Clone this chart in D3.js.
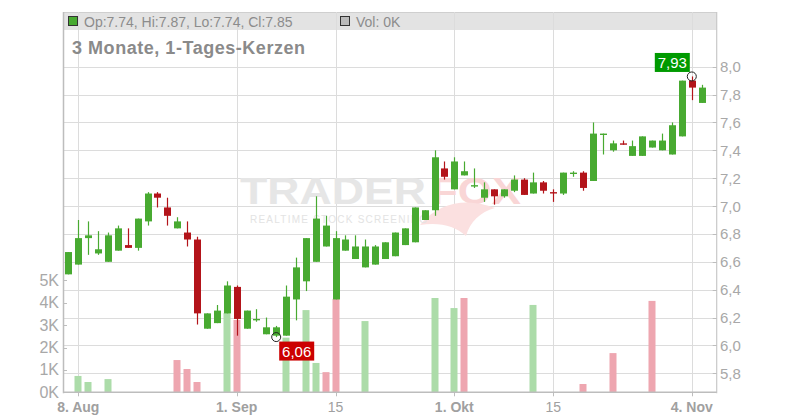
<!DOCTYPE html>
<html><head><meta charset="utf-8">
<script src="https://cdn.jsdelivr.net/npm/d3@7"></script>
<style>html,body{margin:0;padding:0;background:#fff;}svg{display:block;font-family:"Liberation Sans",Arial,sans-serif;}</style>
</head><body><svg id="c" width="800" height="420"></svg>
<script>
const dates = ["2025-08-07","2025-08-08","2025-08-11","2025-08-12","2025-08-13","2025-08-14","2025-08-15","2025-08-18","2025-08-19","2025-08-20","2025-08-21","2025-08-22","2025-08-25","2025-08-26","2025-08-27","2025-08-28","2025-08-29",
"2025-09-01","2025-09-02","2025-09-03","2025-09-04","2025-09-05","2025-09-08","2025-09-09","2025-09-10","2025-09-11","2025-09-12","2025-09-15","2025-09-16","2025-09-17","2025-09-18","2025-09-19","2025-09-22","2025-09-23","2025-09-24","2025-09-25","2025-09-26","2025-09-29","2025-09-30",
"2025-10-01","2025-10-02","2025-10-03","2025-10-06","2025-10-07","2025-10-08","2025-10-09","2025-10-10","2025-10-13","2025-10-14","2025-10-15","2025-10-16","2025-10-17","2025-10-20","2025-10-21","2025-10-22","2025-10-23","2025-10-24","2025-10-27","2025-10-28","2025-10-29","2025-10-30","2025-10-31","2025-11-03","2025-11-04","2025-11-05"];
const open  = [6.51,6.58,6.77,6.66,6.60,6.68,6.72,6.70,6.89,7.09,6.99,6.84,6.81,6.76,6.12,6.16,6.23,6.42,6.12,6.18,6.08,6.07,6.07,6.33,6.46,6.60,6.71,6.33,6.68,6.62,6.56,6.58,6.62,6.64,6.72,6.74,6.90,6.97,7.27,7.12,7.22,7.14,7.06,7.12,7.07,7.11,7.19,7.09,7.17,7.10,7.09,7.23,7.24,7.18,7.51,7.40,7.45,7.36,7.36,7.42,7.40,7.37,7.50,7.90,7.74];
const high  = [6.67,6.90,6.89,6.82,6.81,6.86,6.84,6.91,7.10,7.10,7.06,6.92,6.89,6.78,6.23,6.29,6.46,6.43,6.25,6.26,6.20,6.14,6.43,6.63,6.77,7.07,6.93,6.82,6.79,6.79,6.76,6.72,6.74,6.81,6.84,6.99,6.97,7.40,7.32,7.35,7.32,7.27,7.17,7.12,7.12,7.22,7.20,7.24,7.18,7.12,7.24,7.25,7.25,7.60,7.52,7.47,7.47,7.47,7.50,7.47,7.52,7.60,7.90,7.93,7.87];
const low   = [6.51,6.58,6.65,6.65,6.60,6.68,6.70,6.68,6.86,6.99,6.86,6.84,6.71,6.15,6.12,6.16,6.23,6.07,6.12,6.17,6.08,6.06,6.07,6.18,6.39,6.60,6.71,6.33,6.68,6.62,6.56,6.58,6.62,6.64,6.72,6.74,6.90,6.93,7.19,7.12,7.22,7.13,7.03,7.01,7.06,7.10,7.08,7.09,7.09,7.03,7.08,7.21,7.11,7.18,7.37,7.39,7.44,7.36,7.36,7.42,7.40,7.37,7.50,7.76,7.74];
const close = [6.67,6.77,6.79,6.69,6.79,6.84,6.70,6.91,7.09,7.06,6.93,6.89,6.76,6.23,6.23,6.25,6.43,6.19,6.25,6.19,6.13,6.13,6.35,6.56,6.77,6.91,6.86,6.77,6.76,6.71,6.71,6.71,6.74,6.81,6.84,6.99,6.97,7.35,7.21,7.32,7.25,7.15,7.12,7.07,7.12,7.19,7.08,7.17,7.11,7.09,7.24,7.24,7.13,7.52,7.52,7.45,7.44,7.43,7.50,7.47,7.47,7.58,7.90,7.85,7.85];
const volume = [0,730,460,0,590,0,0,0,0,0,0,1440,1040,460,0,0,3540,3230,0,0,0,0,2440,0,3670,1310,900,4170,0,0,3180,0,0,0,0,0,0,4210,0,3760,4210,0,0,0,0,0,0,3900,0,0,0,0,370,0,0,1750,0,0,0,4080,0,0,0,0,0];
const xTickIndex = [1,17,27,39,49,63];
const xTickLabels = ["8. Aug","1. Sep","15","1. Okt","15","4. Nov"];
const xTickBold = [true,true,false,true,false,true];
const priceTicks = [5.8,6.0,6.2,6.4,6.6,6.8,7.0,7.2,7.4,7.6,7.8,8.0];
const volTicks = [0,1000,2000,3000,4000,5000];
const volTickLabels = ["0K","1K","2K","3K","4K","5K"];
const legendText = "Op:7.74, Hi:7.87, Lo:7.74, Cl:7.85";
const legendVol = "Vol: 0K";
const titleText = "3 Monate, 1-Tages-Kerzen";
const hiMark = {i:63, v:7.93, label:"7,93"};
const loMark = {i:21, v:6.06, label:"6,06"};

const svg = d3.select("#c");
const L = 63, R = 716.7, T = 12, B = 392.3;
const x = d3.scaleLinear().domain([0,64]).range([68.4,701.7]);
const y = d3.scaleLinear().domain([5.8,8.0]).range([373.3,66.7]);
const yv = d3.scaleLinear().domain([0,5000]).range([B,280.3]);
const GREEN = "#48aa31", RED = "#b3141a", VGREEN = "#acdca9", VRED = "#eea6b0";

// header band
svg.append("rect").attr("x",L).attr("y",T).attr("width",R-L).attr("height",18).attr("fill","#e3e3e3");
svg.append("line").attr("x1",L).attr("x2",R).attr("y1",T+0.5).attr("y2",T+0.5).attr("stroke","#cfcfcf");

// gridlines
const g = svg.append("g");
g.selectAll("line.h").data(priceTicks).join("line")
  .attr("x1",L).attr("x2",R).attr("y1",d=>Math.round(y(d))+0.5).attr("y2",d=>Math.round(y(d))+0.5)
  .attr("stroke","#dcdcdc");
g.selectAll("line.v").data(xTickIndex).join("line")
  .attr("x1",d=>Math.round(x(d))+0.5).attr("x2",d=>Math.round(x(d))+0.5).attr("y1",T).attr("y2",B)
  .attr("stroke","#dcdcdc");

// watermark
const wm = svg.append("g");
wm.append("text").attr("x",240).attr("y",203.5).attr("font-size",37).attr("font-weight","bold")
  .attr("fill","#e6e6e6").attr("textLength",186).attr("lengthAdjust","spacingAndGlyphs").text("TRADER");
wm.append("text").attr("x",431).attr("y",203.5).attr("font-size",37).attr("font-weight","bold")
  .attr("fill","#f9d6d6").attr("textLength",90).attr("lengthAdjust","spacingAndGlyphs").text("FOX");
wm.append("path").attr("d","M420,225 C440,200 470,198 495,208 C480,212 470,222 466,236 C455,226 440,222 420,225 Z")
  .attr("fill","#fbe0e0");
wm.append("text").attr("x",250).attr("y",222.5).attr("font-size",10).attr("fill","#e3e3e3")
  .attr("textLength",177).attr("lengthAdjust","spacing").text("REALTIME STOCK SCREENING");

// volume bars
const idx = d3.range(open.length);
svg.append("g").selectAll("rect").data(idx.filter(i=>volume[i]>0)).join("rect")
  .attr("x",i=>Math.round(x(i))-3.5).attr("width",7)
  .attr("y",i=>yv(volume[i])).attr("height",i=>B-yv(volume[i]))
  .attr("fill",i=> (i>0 && close[i] < close[i-1]) ? VRED : VGREEN);

// candles
const cg = svg.append("g");
cg.selectAll("line").data(idx).join("line")
  .attr("x1",i=>Math.round(x(i))+0.5).attr("x2",i=>Math.round(x(i))+0.5)
  .attr("y1",i=>y(high[i])).attr("y2",i=>y(low[i]))
  .attr("stroke",i=>close[i]<open[i]?RED:GREEN).attr("stroke-width",1.2);
cg.selectAll("rect").data(idx).join("rect")
  .attr("x",i=>Math.round(x(i))-3).attr("width",7)
  .attr("y",i=>y(Math.max(open[i],close[i])))
  .attr("height",i=>Math.max(1.2, Math.abs(y(open[i])-y(close[i]))))
  .attr("fill",i=>close[i]<open[i]?RED:GREEN);

// axes lines
svg.append("line").attr("x1",L+0.5).attr("x2",L+0.5).attr("y1",T).attr("y2",B+1).attr("stroke","#bdbdbd").attr("stroke-width",1.5);
svg.append("line").attr("x1",R).attr("x2",R).attr("y1",T).attr("y2",B+1).attr("stroke","#c8c8c8").attr("stroke-width",1.2);
svg.append("line").attr("x1",L).attr("x2",R).attr("y1",B).attr("y2",B).attr("stroke","#bdbdbd").attr("stroke-width",1.5);

// x axis
const xa = svg.append("g");
xa.selectAll("line").data(xTickIndex).join("line")
  .attr("x1",d=>Math.round(x(d))+0.5).attr("x2",d=>Math.round(x(d))+0.5).attr("y1",B).attr("y2",B+4).attr("stroke","#bdbdbd");
xa.selectAll("text").data(xTickIndex).join("text")
  .attr("x",d=>x(d)).attr("y",412).attr("text-anchor","middle").attr("font-size",14)
  .attr("font-weight",(d,i)=>xTickBold[i]?"bold":"normal").attr("fill","#a0a0a0")
  .text((d,i)=>xTickLabels[i]);

// price axis (right)
const pa = svg.append("g");
pa.selectAll("line").data(priceTicks).join("line")
  .attr("x1",R-4).attr("x2",R).attr("y1",d=>Math.round(y(d))+0.5).attr("y2",d=>Math.round(y(d))+0.5).attr("stroke","#bdbdbd");
pa.selectAll("text").data(priceTicks).join("text")
  .attr("x",720).attr("y",d=>y(d)+5.5).attr("font-size",15).attr("fill","#a8a8a8")
  .text(d=>d3.format(".1f")(d).replace(".",","));

// volume axis (left)
const va = svg.append("g");
va.selectAll("line").data(volTicks).join("line")
  .attr("x1",L).attr("x2",L+4).attr("y1",d=>Math.round(yv(d))+0.5).attr("y2",d=>Math.round(yv(d))+0.5).attr("stroke","#bdbdbd");
va.selectAll("text").data(volTicks).join("text")
  .attr("x",59).attr("y",d=>yv(d)+5.5).attr("text-anchor","end").attr("font-size",16).attr("fill","#a8a8a8")
  .text((d,i)=>volTickLabels[i]);

// legend
svg.append("rect").attr("x",68.5).attr("y",16.5).attr("width",9).attr("height",9).attr("fill",GREEN).attr("stroke","#333");
svg.append("text").attr("x",84).attr("y",26.5).attr("font-size",14).attr("fill","#8c8c8c").text(legendText);
svg.append("rect").attr("x",340.5).attr("y",16.5).attr("width",9).attr("height",9).attr("fill","#bbb").attr("stroke","#333");
svg.append("text").attr("x",356).attr("y",26.5).attr("font-size",14).attr("fill","#8c8c8c").text(legendVol);

// title
svg.append("text").attr("x",72).attr("y",54).attr("font-size",18).attr("font-weight","bold").attr("fill","#8a8a8a")
  .attr("textLength",233).attr("lengthAdjust","spacing").text(titleText);

// markers
function marker(m, color, above){
  const cx = x(m.i), cy = y(m.v);
  svg.append("circle").attr("cx",cx).attr("cy",cy).attr("r",4.5).attr("fill","none").attr("stroke","#222").attr("stroke-width",1);
  const w = 35, h = 19;
  const bx = above ? cx - 37 : cx + 3;
  const by = above ? cy - 23.5 : cy + 4.5;
  svg.append("rect").attr("x",bx).attr("y",by).attr("width",w).attr("height",h).attr("fill",color);
  svg.append("text").attr("x",bx+w/2).attr("y",by+15).attr("text-anchor","middle").attr("font-size",15).attr("fill","#fff").text(m.label);
}
marker(hiMark,"#009a00",true);
marker(loMark,"#cc0000",false);
</script></body></html>
